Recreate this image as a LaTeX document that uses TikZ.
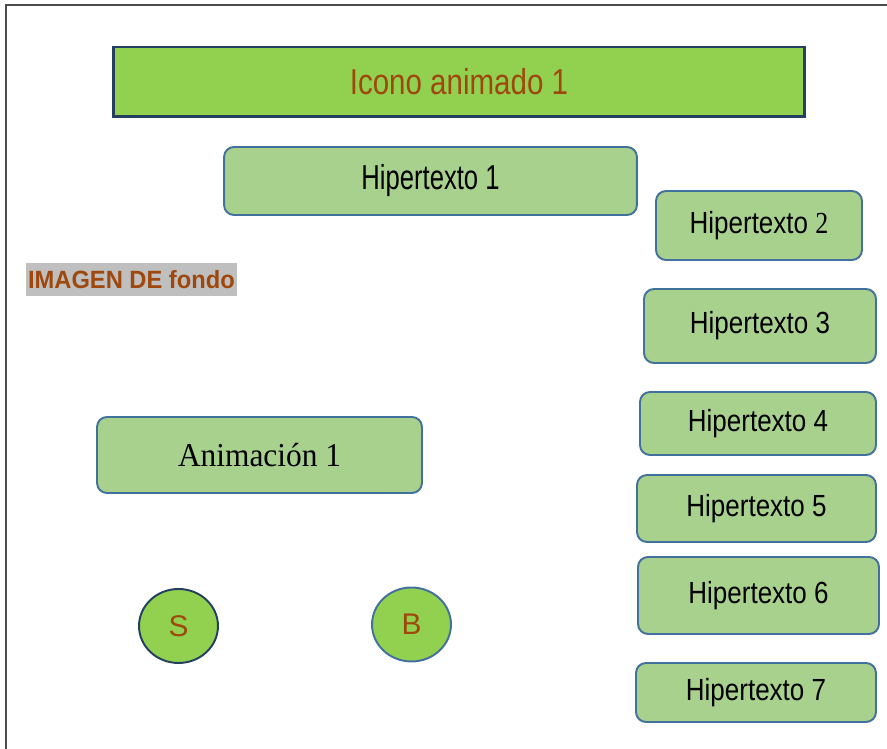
\documentclass[tikz,border=0pt]{standalone}
\usepackage{fontspec}
\usepackage{graphicx}
\setmainfont{Liberation Sans}
\newfontfamily\timesfont{Liberation Serif}
\usetikzlibrary{shapes.geometric}
\definecolor{titlegreen}{HTML}{92D050}
\definecolor{boxgreen}{HTML}{A9D18E}
\definecolor{boxblue}{HTML}{41719C}
\definecolor{navy}{HTML}{243F60}
\definecolor{rust}{HTML}{9E480E}
\definecolor{hlgray}{HTML}{BFBFBF}
\newcommand{\narrowtext}[2]{\scalebox{#1}[1]{#2}}

\begin{document}
\begin{tikzpicture}[x=0.02cm,y=-0.02cm]
\tikzstyle{hyperbox}=[draw=boxblue, fill=boxgreen, line width=1.1pt, rounded corners=0.2cm, align=center, inner sep=0pt, font=\fontsize{17.4}{20}\selectfont]
\tikzstyle{titlebox}=[draw=navy, fill=titlegreen, line width=1.7pt, inner sep=0pt, text=rust, font=\fontsize{20.5}{24}\selectfont]
\tikzstyle{button}=[ellipse, fill=titlegreen, line width=1.1pt, inner sep=0pt, minimum width=1.58cm, minimum height=1.48cm, text=rust, font=\fontsize{17}{20}\selectfont]
\useasboundingbox (0,0) rectangle (887,749);
% page frame
\draw[line width=0.8pt, black!70] (6,749) -- (6,5) -- (887,5);
\node[titlebox, minimum width=13.84cm, minimum height=1.40cm] (icono) at (459,82) {\narrowtext{0.82}{Icono animado 1}};
\node[hyperbox, minimum width=8.26cm, minimum height=1.36cm, font=\fontsize{19.7}{22}\selectfont] (hip1) at (430.5,181) {\narrowtext{0.74}{Hipertexto 1}};
\node[hyperbox, minimum width=4.12cm, minimum height=1.38cm] (hip2) at (759,225.5) {\narrowtext{0.85}{Hipertexto {\timesfont 2}}};
\node[hyperbox, minimum width=4.64cm, minimum height=1.48cm] (hip3) at (760,326) {\narrowtext{0.85}{Hipertexto 3}};
\node[hyperbox, minimum width=4.72cm, minimum height=1.26cm] (hip4) at (758,423.5) {\narrowtext{0.85}{Hipertexto 4}};
\node[hyperbox, minimum width=4.78cm, minimum height=1.34cm] (hip5) at (756.5,508.5) {\narrowtext{0.85}{Hipertexto 5}};
\node[hyperbox, minimum width=4.82cm, minimum height=1.54cm] (hip6) at (758.5,595.5) {\narrowtext{0.85}{Hipertexto 6}};
\node[hyperbox, minimum width=4.80cm, minimum height=1.18cm] (hip7) at (756,692.5) {\narrowtext{0.85}{Hipertexto 7}};
\node[hyperbox, minimum width=6.50cm, minimum height=1.52cm, font=\timesfont\fontsize{19}{22}\selectfont] (anim) at (259.5,455) {\narrowtext{0.94}{Animación 1}};
\node[fill=hlgray, text=rust, inner xsep=1pt, inner ysep=0pt, minimum height=0.66cm, anchor=west, font=\bfseries\fontsize{14.2}{16}\selectfont] (fondo) at (26,279.5) {\narrowtext{0.95}{IMAGEN DE fondo}};
\node[button, draw=navy] (btnS) at (178.5,626) {S};
\node[button, draw=boxblue] (btnB) at (411.5,624.5) {B};
\end{tikzpicture}
\end{document}
